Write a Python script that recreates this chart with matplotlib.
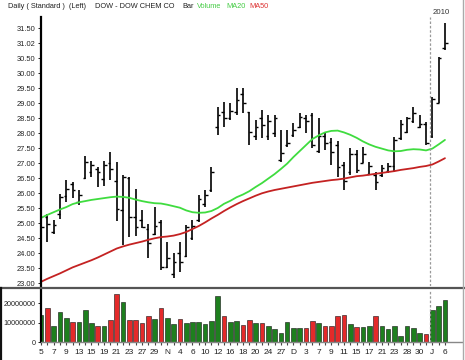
import matplotlib
matplotlib.use('Agg')
import matplotlib.pyplot as plt
import numpy as np
from matplotlib.lines import Line2D

plt.rcParams['font.family'] = ['Liberation Sans', 'DejaVu Sans']

# ---------------- data ----------------
opens = [23.85, 25.20, 24.70, 25.30, 25.90, 26.30, 25.70, 26.50, 26.70, 26.80,
         26.48, 27.00, 26.40, 25.45, 26.50, 25.20, 25.10, 24.80, 24.65, 25.05,
         23.55, 23.30, 24.00, 23.90, 24.50, 25.10, 25.65, 26.10, 28.20, 28.70,
         28.50, 28.70, 29.30, 28.70, 27.90, 28.50, 27.90, 28.00, 27.10, 27.60,
         27.95, 28.20, 28.50, 28.60, 27.40, 27.90, 27.70, 27.60, 26.95, 26.70,
         27.30, 27.00, 26.65, 26.60, 26.60, 26.75, 26.90, 27.85, 28.05, 28.40,
         28.20, 28.30, 27.90, 29.00, 30.85]
highs = [25.04, 25.29, 25.09, 25.98, 26.44, 26.37, 26.09, 27.25, 27.08, 26.86,
         27.08, 27.36, 27.03, 26.59, 26.53, 26.14, 25.42, 24.98, 25.54, 25.09,
         24.37, 23.99, 24.37, 24.93, 25.09, 25.92, 26.09, 26.86, 28.88, 29.04,
         28.99, 29.49, 29.49, 28.71, 28.43, 28.77, 28.60, 28.60, 28.10, 28.10,
         28.32, 28.66, 28.60, 28.66, 28.49, 27.99, 27.82, 27.72, 27.04, 27.49,
         27.43, 27.54, 27.04, 26.71, 26.93, 26.99, 27.88, 28.43, 28.54, 28.88,
         28.60, 28.38, 29.21, 30.54, 31.66]
lows = [23.71, 24.37, 24.63, 25.15, 25.70, 25.85, 25.59, 26.48, 26.53, 26.20,
        26.25, 26.44, 25.07, 24.26, 24.54, 24.56, 24.82, 23.82, 24.59, 23.43,
        23.49, 23.16, 23.38, 23.88, 24.43, 25.04, 25.54, 26.03, 27.93, 28.20,
        28.43, 28.60, 28.66, 27.60, 27.77, 27.82, 27.77, 27.88, 27.04, 27.54,
        27.88, 28.16, 27.99, 27.49, 27.32, 27.43, 26.93, 26.55, 26.10, 26.60,
        26.66, 26.99, 26.60, 26.10, 26.54, 26.66, 26.71, 27.77, 27.99, 28.32,
        28.16, 27.60, 27.82, 28.99, 30.77]
closes = [24.87, 24.98, 24.93, 25.87, 26.14, 26.10, 25.92, 27.05, 26.95, 26.70,
          26.95, 26.80, 25.48, 26.53, 25.20, 24.87, 24.87, 24.32, 24.90, 23.55,
          23.82, 23.71, 23.71, 24.87, 24.90, 25.80, 25.95, 26.70, 28.60, 28.49,
          28.75, 29.10, 28.99, 28.04, 28.20, 28.27, 28.40, 28.50, 27.32, 27.66,
          28.10, 28.54, 28.40, 27.60, 27.90, 27.66, 27.38, 26.88, 26.40, 27.30,
          26.77, 27.30, 26.90, 26.38, 26.85, 26.90, 27.77, 28.30, 28.49, 28.66,
          28.30, 27.66, 29.15, 30.49, 31.00]
ma20 = [25.17, 25.27, 25.36, 25.45, 25.53, 25.63, 25.69, 25.73, 25.77, 25.80,
        25.83, 25.86, 25.88, 25.87, 25.84, 25.78, 25.73, 25.69, 25.66, 25.65,
        25.61, 25.56, 25.51, 25.42, 25.36, 25.34, 25.35, 25.40, 25.50, 25.64,
        25.74, 25.86, 25.95, 26.06, 26.20, 26.33, 26.48, 26.63, 26.80, 26.98,
        27.20, 27.40, 27.60, 27.80, 27.92, 28.02, 28.07, 28.08, 28.02, 27.94,
        27.84, 27.72, 27.62, 27.54, 27.48, 27.42, 27.39, 27.40, 27.44, 27.46,
        27.45, 27.42, 27.48, 27.62, 27.77]
ma50 = [23.04, 23.14, 23.23, 23.32, 23.42, 23.52, 23.60, 23.68, 23.76, 23.85,
        23.95, 24.05, 24.15, 24.22, 24.28, 24.33, 24.38, 24.44, 24.49, 24.53,
        24.55, 24.58, 24.63, 24.70, 24.80, 24.90, 25.02, 25.15, 25.27, 25.40,
        25.52, 25.63, 25.73, 25.82, 25.91, 25.99, 26.05, 26.10, 26.14, 26.18,
        26.22, 26.26, 26.30, 26.34, 26.37, 26.40, 26.43, 26.45, 26.48, 26.52,
        26.56, 26.58, 26.61, 26.64, 26.67, 26.70, 26.73, 26.77, 26.80, 26.83,
        26.87, 26.90, 26.95, 27.05, 27.16]
volume_millions = [14.0, 17.5, 8.6, 15.6, 12.2, 10.3, 10.3, 16.3, 9.8, 8.6,
                   8.6, 11.2, 24.6, 20.5, 11.2, 11.5, 9.8, 13.4, 12.0, 17.5,
                   12.2, 9.4, 12.0, 10.1, 10.6, 10.6, 9.3, 11.0, 23.6, 13.6,
                   10.3, 10.7, 9.0, 11.6, 9.7, 9.7, 8.4, 6.7, 5.0, 10.2,
                   7.2, 7.2, 7.1, 10.7, 9.7, 8.6, 8.6, 13.3, 13.8, 9.3,
                   7.6, 7.6, 8.1, 13.3, 8.6, 6.7, 8.1, 3.3, 8.1, 7.2,
                   5.0, 4.3, 16.7, 18.6, 21.6]
x_labels = ['5', '7', '9', '13', '15', '19', '21', '23', '27', '29', 'N', '4',
            '6', '10', '12', '16', '18', '20', '24', '27', 'D', '3', '7', '9',
            '11', '15', '17', '21', '23', '28', '30', 'J', '6']
price_ticks = [23.0, 23.5, 24.0, 24.5, 25.0, 25.5, 26.0, 26.5, 27.0, 27.5,
               28.0, 28.5, 29.0, 29.5, 30.0, 30.5, 31.0, 31.5]
price_tick_labels = ['23.00', '23.50', '24.00', '24.50', '25.00', '25.50',
                     '26.00', '26.50', '27.00', '27.50', '28.00', '28.50',
                     '29.00', '29.50', '30.00', '30.50', '31.02', '31.50']
vol_ticks = [0, 10000000, 20000000]
vol_tick_labels = ['0', '10000000', '20000000']
first_2010_bar = 62
year_label = '2010'

# ---------------- layout ----------------
W, H = 465, 360
fig = plt.figure(figsize=(W / 100, H / 100), dpi=100)
fig.patch.set_facecolor('white')

def rect(x0, y0, x1, y1):
    return [x0 / W, 1 - y1 / H, (x1 - x0) / W, (y1 - y0) / H]

ax = fig.add_axes(rect(40.5, 17, 462, 286))
axv = fig.add_axes(rect(40.5, 290, 462, 342.3))

n = len(closes)
idx = np.arange(n)
xlim = (-0.08, 66.7)

# ---------------- price panel ----------------
ax.vlines(idx, lows, highs, color='black', lw=1.2)
ax.hlines(opens, idx - 0.42, idx, color='black', lw=1.0)
ax.hlines(closes, idx, idx + 0.42, color='black', lw=1.0)
ax.plot(idx, ma20, color='#3fdc3f', lw=1.3, solid_capstyle='round')
ax.plot(idx, ma50, color='#c42222', lw=1.3, solid_capstyle='round')

ax.set_xlim(*xlim)
ax.set_ylim(22.9, 31.867)
ax.set_yticks(price_ticks)
ax.set_yticklabels(price_tick_labels)
ax.set_xticks([])
for s in ['top', 'right', 'bottom']:
    ax.spines[s].set_visible(False)
ax.spines['left'].set_linewidth(1.6)
ax.spines['left'].set_color('black')
ax.tick_params(axis='y', direction='out', length=2.5, width=0.7, pad=1,
               labelsize=5.4, labelcolor='#222222', color='#222222')

break_x = first_2010_bar - 0.3
ax.axvline(break_x, color='#999999', lw=0.9, ls=(0, (2, 1.5)))
axv.axvline(break_x, color='#999999', lw=0.9, ls=(0, (2, 1.5)))
fig.text(433 / W, 1 - 13 / H, year_label, fontsize=5.6, color='#333333',
         ha='left', va='center')

# ---------------- volume panel ----------------
vol = np.array(volume_millions) * 1e6
colors = ['#1e7f1e' if c >= o else '#e42a2a' for o, c in zip(opens, closes)]
axv.bar(idx, vol, width=0.74, color=colors, edgecolor='#111111', linewidth=0.4)
axv.set_xlim(*xlim)
axv.set_ylim(0, 26.8e6)
axv.set_yticks(vol_ticks)
axv.set_yticklabels(vol_tick_labels)
for s in ['top', 'right']:
    axv.spines[s].set_visible(False)
axv.spines['left'].set_linewidth(1.6)
axv.spines['left'].set_color('black')
axv.spines['bottom'].set_linewidth(1.0)
axv.spines['bottom'].set_color('#888888')
axv.tick_params(axis='y', direction='out', length=2.5, width=0.7, pad=1,
                labelsize=5.2, labelcolor='#222222', color='#222222')
axv.set_xticks(idx[::2])
axv.set_xticklabels(x_labels)
axv.set_xticks(idx[1::2], minor=True)
axv.tick_params(axis='x', which='both', direction='out', length=2.5, width=0.8,
                color='#444444', pad=2.5, labelsize=6, labelcolor='#222222')

# ---------------- frame / title ----------------
fig.add_artist(Line2D([0, 1], [1 - 287.5 / H] * 2, color='#555555', lw=1.6,
                      transform=fig.transFigure))
fig.add_artist(Line2D([462.5 / W] * 2, [0, 1], color='#aaaaaa', lw=1.0,
                      transform=fig.transFigure))
fig.add_artist(Line2D([1 / W] * 2, [0, 1 - 287.5 / H], color='#111111', lw=1.6,
                      transform=fig.transFigure))

ty = 1 - 6 / H
fs = 5.3
fig.text(8 / W, ty, 'Daily ( Standard )  (Left)', fontsize=fs, color='#222222', va='center')
fig.text(95 / W, ty, 'DOW - DOW CHEM CO', fontsize=fs, color='#222222', va='center')
fig.text(182 / W, ty, 'Bar', fontsize=fs, color='#222222', va='center')
fig.text(197 / W, ty, 'Volume', fontsize=fs, color='#44cc44', va='center')
fig.text(226 / W, ty, 'MA20', fontsize=fs, color='#44cc44', va='center')
fig.text(249 / W, ty, 'MA50', fontsize=fs, color='#dd3333', va='center')

fig.savefig('out.png', dpi=100, facecolor='white')
